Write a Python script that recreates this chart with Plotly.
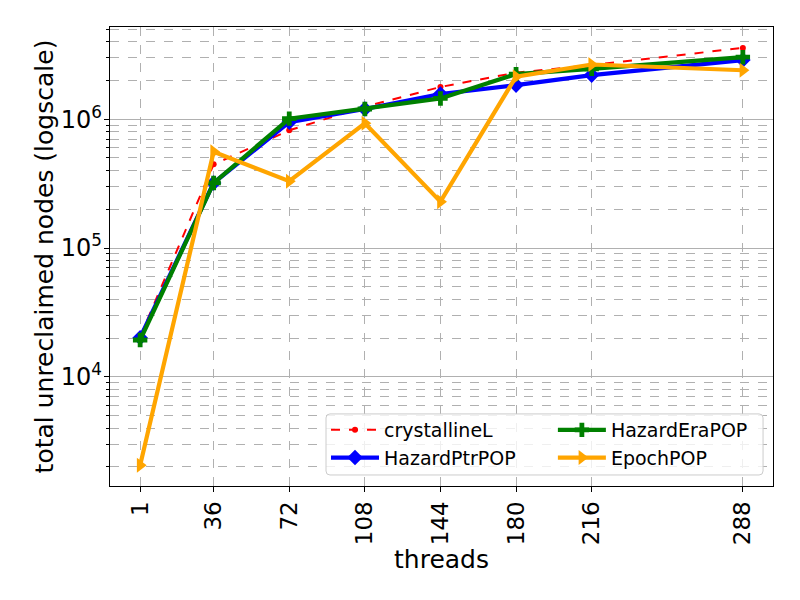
import plotly.graph_objects as go

threads = [1, 36, 72, 108, 144, 180, 216, 288]
crystallineL = [2.05e4, 4.46e5, 8.2e5, 1.25e6, 1.78e6, 2.3e6, 2.63e6, 3.58e6]
hazard_ptr = [2.01e4, 3.2e5, 9.5e5, 1.2e6, 1.57e6, 1.84e6, 2.2e6, 2.88e6]
hazard_era = [1.93e4, 3.2e5, 1.01e6, 1.2e6, 1.45e6, 2.24e6, 2.46e6, 3.03e6]
epoch = [2.06e3, 5.59e5, 3.3e5, 9.3e5, 2.29e5, 2.14e6, 2.66e6, 2.4e6]

x_ticks = [1, 36, 72, 108, 144, 180, 216, 288]
y_major = [1e4, 1e5, 1e6]
y_major_text = ["10<sup>4</sup>", "10<sup>5</sup>", "10<sup>6</sup>"]
y_minor = [m * 10 ** e for e in range(3, 7) for m in range(2, 10)]

FONT = "DejaVu Sans"
GRID = "#b0b0b0"

fig = go.Figure()
fig.add_trace(go.Scatter(
    x=threads, y=crystallineL, name="crystallineL", mode="lines+markers",
    line=dict(color="red", width=2, dash="dash"),
    marker=dict(symbol="circle", size=6, color="red"),
    legend="legend",
))
fig.add_trace(go.Scatter(
    x=threads, y=hazard_ptr, name="HazardPtrPOP", mode="lines+markers",
    line=dict(color="blue", width=4.2),
    marker=dict(symbol="diamond", size=12, color="blue"),
    legend="legend",
))
fig.add_trace(go.Scatter(
    x=threads, y=hazard_era, name="HazardEraPOP", mode="lines+markers",
    line=dict(color="green", width=4.2),
    marker=dict(symbol="cross", size=12, color="green"),
    legend="legend2",
))
fig.add_trace(go.Scatter(
    x=threads, y=epoch, name="EpochPOP", mode="lines+markers",
    line=dict(color="orange", width=4.2),
    marker=dict(symbol="triangle-right", size=13, color="orange"),
    legend="legend2",
))

# legend frame (matplotlib style rounded box), in paper coords
bx0, bx1, by0, by1 = 0.3258, 0.985, 0.024, 0.157
rx, ry = 0.006, 0.0087
frame_path = (
    f"M {bx0+rx},{by0} L {bx1-rx},{by0} Q {bx1},{by0} {bx1},{by0+ry} "
    f"L {bx1},{by1-ry} Q {bx1},{by1} {bx1-rx},{by1} "
    f"L {bx0+rx},{by1} Q {bx0},{by1} {bx0},{by1-ry} "
    f"L {bx0},{by0+ry} Q {bx0},{by0} {bx0+rx},{by0} Z"
)

leg_common = dict(
    orientation="v", traceorder="normal",
    yanchor="top", y=0.1634, xanchor="left",
    bgcolor="rgba(0,0,0,0)", borderwidth=0,
    font=dict(family=FONT, size=19), itemwidth=48,
)

# page body has an 8px default margin, so margins are shifted to compensate
fig.update_layout(
    width=800, height=600,
    margin=dict(l=102, r=35, t=19, b=122),
    paper_bgcolor="white", plot_bgcolor="white",
    font=dict(family=FONT, size=24, color="black"),
    showlegend=True,
    legend=dict(x=0.3258, **leg_common),
    legend2=dict(x=0.668, **leg_common),
    shapes=[dict(type="path", path=frame_path, xref="paper", yref="paper",
                 fillcolor="rgba(255,255,255,0.8)", line=dict(color="#cccccc", width=1),
                 layer="above")],
    xaxis=dict(
        range=[-13.35, 302.35], tickvals=x_ticks, ticktext=[str(t) for t in x_ticks],
        tickangle=-90, ticks="outside", ticklen=5, tickcolor="black",
        showline=True, linecolor="black", linewidth=1.3, mirror=True,
        showgrid=True, gridcolor=GRID, griddash="dash", gridwidth=1,
        zeroline=False, automargin=False,
        title=dict(text="threads", font=dict(size=25), standoff=4),
        tickfont=dict(size=23),
    ),
    yaxis=dict(
        type="log", range=[3.152, 6.716],
        tickvals=y_major, ticktext=y_major_text,
        ticks="outside", ticklen=5, tickcolor="black",
        showline=True, linecolor="black", linewidth=1.3, mirror=True,
        showgrid=True, gridcolor=GRID, gridwidth=1,
        zeroline=False, automargin=False,
        minor=dict(tickvals=y_minor, showgrid=True, gridcolor=GRID, griddash="dash",
                   gridwidth=1, ticks="outside", ticklen=2.5, tickcolor="black"),
        title=dict(text="total unreclaimed nodes (logscale)", font=dict(size=25), standoff=0),
        tickfont=dict(size=24),
        ticklabelstandoff=-3,
    ),
)

fig.write_html("out.html")
